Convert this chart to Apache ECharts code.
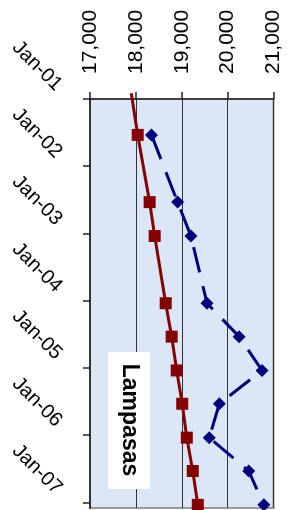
<!DOCTYPE html>
<html>
<head>
<meta charset="utf-8">
<script src="https://cdn.jsdelivr.net/npm/echarts@6/dist/echarts.min.js"></script>
<style>
  html, body { margin: 0; padding: 0; background: #fff; }
  #chart { width: 290px; height: 510px; }
</style>
</head>
<body>
<div id="chart"></div>
<script>
// sample dates (mid-month readings)
const dates = ['2001-07-15', '2002-07-15', '2003-01-15', '2004-01-15', '2004-07-15',
  '2005-01-15', '2005-07-15', '2006-01-15', '2006-07-15', '2007-01-15'];
// measured level (blue dashed)
const measured = [18340, 18910, 19200, 19550, 20250, 20750, 19820, 19600, 20460, 20790];
// trend line (dark red)
const trend = [18040, 18300, 18410, 18650, 18780, 18890, 19010, 19110, 19240, 19350];
// trend line is drawn back a little before the first sample
const trendStartDate = '2000-12-01';
const trendStartValue = 17900;
const valueTicks = [17000, 18000, 19000, 20000, 21000];
const yearTicks = ['2001-01-01', '2002-01-01', '2003-01-01', '2004-01-01',
  '2005-01-01', '2006-01-01', '2007-01-01'];
const yearLabels = ['Jan-01', 'Jan-02', 'Jan-03', 'Jan-04', 'Jan-05', 'Jan-06', 'Jan-07'];
const dateMin = '2001-01-01';
const dateMax = '2007-02-01';
const title = 'Lampasas';

// date string -> fractional year, so a plain value axis can carry the dates
function yearFrac(d) {
  const t = new Date(d + 'T00:00:00Z');
  const y = t.getUTCFullYear();
  const start = Date.UTC(y, 0, 1);
  const end = Date.UTC(y + 1, 0, 1);
  return y + (t.getTime() - start) / (end - start);
}

const trendData = [{ value: [trendStartValue, yearFrac(trendStartDate)], symbolSize: 0 }];
for (let i = 0; i < dates.length; i++) {
  trendData.push([trend[i], yearFrac(dates[i])]);
}
const measuredData = dates.map((d, i) => [measured[i], yearFrac(d)]);
const yearTickVals = yearTicks.map(yearFrac);

const chart = echarts.init(document.getElementById('chart'));
chart.setOption({
  animation: false,
  grid: {
    left: 90,
    right: 16.5,
    top: 99,
    bottom: 2,
    show: true,
    backgroundColor: '#dbe7f6',
    borderColor: '#9a9a9a',
    borderWidth: 2
  },
  xAxis: {
    type: 'value',
    position: 'top',
    min: valueTicks[0],
    max: valueTicks[valueTicks.length - 1],
    interval: 1000,
    axisLine: { show: true, lineStyle: { color: '#222', width: 1.5 } },
    axisTick: { show: true, length: 7, lineStyle: { color: '#222', width: 1.5 } },
    axisLabel: {
      rotate: -90,
      margin: 25,
      fontFamily: 'Arial, "Liberation Sans"',
      fontSize: 21,
      color: '#000',
      formatter: v => v.toLocaleString('en-US')
    },
    splitLine: { show: true, lineStyle: { color: '#333', width: 1 } }
  },
  yAxis: {
    type: 'value',
    inverse: true,
    min: yearFrac(dateMin),
    max: yearFrac(dateMax),
    axisLine: { show: true, lineStyle: { color: '#333', width: 2 } },
    axisTick: {
      show: true, length: 7,
      customValues: yearTickVals,
      lineStyle: { color: '#222', width: 1.5 }
    },
    axisLabel: {
      rotate: -45,
      margin: 20,
      padding: [0, 16, 0, 0],
      customValues: yearTickVals,
      fontFamily: 'Arial, "Liberation Sans"',
      fontSize: 20,
      color: '#000',
      formatter: v => {
        let best = 0;
        yearTickVals.forEach((t, i) => {
          if (Math.abs(t - v) < Math.abs(yearTickVals[best] - v)) best = i;
        });
        return yearLabels[best];
      }
    },
    splitLine: { show: false }
  },
  series: [
    {
      name: 'Trend',
      type: 'line',
      data: trendData,
      clip: false,
      symbol: 'rect',
      symbolSize: 12,
      itemStyle: { color: '#850000' },
      lineStyle: { color: '#850000', width: 3 },
      z: 3
    },
    {
      name: 'Level',
      type: 'line',
      data: measuredData,
      symbol: 'diamond',
      symbolSize: 13,
      itemStyle: { color: '#00007f' },
      lineStyle: { color: '#00007f', width: 3, type: [26, 14] },
      z: 4
    }
  ],
  graphic: [
    {
      type: 'rect',
      z: 10,
      shape: { x: 108, y: 352, width: 42, height: 137 },
      style: { fill: '#fff' }
    },
    {
      type: 'text',
      z: 11,
      x: 129,
      y: 420,
      rotation: -Math.PI / 2,
      style: {
        text: title,
        font: 'bold 23px Arial, "Liberation Sans"',
        fill: '#000',
        align: 'center',
        verticalAlign: 'middle'
      }
    }
  ]
});
</script>
</body>
</html>
